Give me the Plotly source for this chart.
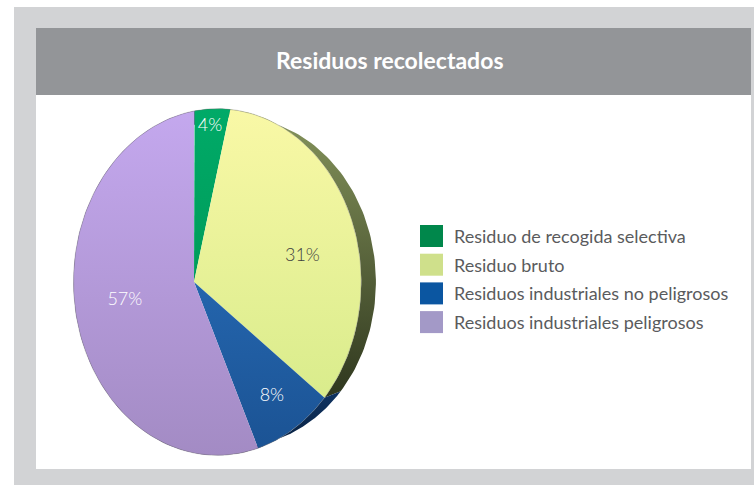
import numpy as np
import plotly.graph_objects as go

# ---- data -------------------------------------------------------------
categories = [
    "Residuo de recogida selectiva",
    "Residuo bruto",
    "Residuos industriales no peligrosos",
    "Residuos industriales peligrosos",
]
shares = [4, 31, 8, 57]
title_text = "Residuos recolectados"

# ---- style ------------------------------------------------------------
W, H = 754, 485
FONT = "Lato"

# face gradients: (type, low-end colour, high-end colour)
face_grad = [
    ("vertical", "#009c5a", "#00aa68"),
    ("vertical", "#d9ec8c", "#f9f8a6"),
    ("vertical", "#1b5394", "#2465ad"),
    ("vertical", "#a38bc4", "#c4a8ee"),
]
side_grad = [
    ("vertical", "#005a32", "#007a45"),
    ("vertical", "#2f371e", "#86955c"),
    ("vertical", "#08203f", "#0f3362"),
    ("vertical", "#5e507a", "#7a6a9a"),
]
legend_colors = ["#00874b", "#cfe08b", "#0b56a1", "#a399c7"]
label_colors = ["white", "#3f3f3f", "white", "white"]
label_radius = [0.9, 0.7, 0.8, 0.55]
label_turn = [0, 9, 0, 0]    # degrees, nudges a label along the slice

# tilted-disc projection (unit radius, seen in perspective)
PHI = np.radians(35)      # turn about the vertical axis
DIST = 3.53               # viewer distance in radii
DEPTH = 0.22              # disc thickness in radii
CX, CY, SCALE = 194, 282, 171   # pixel position of the disc centre, px per radius


def project(theta, r=1.0, z=0.0):
    X = r * np.sin(theta)
    Y = r * np.cos(theta)
    xr = X * np.cos(PHI) - z * np.sin(PHI)
    zr = X * np.sin(PHI) + z * np.cos(PHI)
    s = 1.0 / (1.0 - zr / DIST)
    return xr * s, Y * s


def px_x(p):
    return p / W


def px_y(p):
    return 1 - p / H


fig = go.Figure()

total = float(sum(shares))
bounds = np.concatenate([[0], np.cumsum(shares)]) / total * 2 * np.pi

# side walls first, faces on top
for i in range(len(shares)):
    th = np.linspace(bounds[i], bounds[i + 1], 80)
    fx, fy = project(th)
    bx, by = project(th[::-1], z=-DEPTH)
    kind, c0, c1 = side_grad[i]
    fig.add_trace(go.Scatter(
        x=np.concatenate([fx, bx]), y=np.concatenate([fy, by]),
        mode="lines", fill="toself", line=dict(width=0),
        fillgradient=dict(type=kind, colorscale=[[0, c0], [1, c1]]),
        hoverinfo="skip", showlegend=False))

for i in range(len(shares)):
    th = np.linspace(bounds[i], bounds[i + 1], 120)
    ax, ay = project(th)
    cx0, cy0 = project(np.array([0.0]), r=0.0)
    kind, c0, c1 = face_grad[i]
    fig.add_trace(go.Scatter(
        x=np.concatenate([cx0, ax, cx0]), y=np.concatenate([cy0, ay, cy0]),
        mode="lines", fill="toself", line=dict(width=0),
        fillgradient=dict(type=kind, colorscale=[[0, c0], [1, c1]]),
        name=categories[i], hoverinfo="name", showlegend=False))

# thin rim line round the face
th = np.linspace(0, 2 * np.pi, 361)
ox, oy = project(th)
fig.add_trace(go.Scatter(x=ox, y=oy, mode="lines",
                         line=dict(color="rgba(110,110,110,0.35)", width=1),
                         hoverinfo="skip", showlegend=False))

# percentage labels
for i, v in enumerate(shares):
    mid = (bounds[i] + bounds[i + 1]) / 2 + np.radians(label_turn[i])
    lx, ly = project(np.array([mid]), r=label_radius[i])
    fig.add_trace(go.Scatter(
        x=lx, y=ly, mode="text", text=[f"{v}%"],
        textfont=dict(family=FONT, size=18, color=label_colors[i], weight=300),
        hoverinfo="skip", showlegend=False))

# background panels and title bar
shapes = [
    dict(type="rect", xref="paper", yref="paper", x0=px_x(14), x1=1, y0=0, y1=px_y(7),
         fillcolor="#d2d3d5", line=dict(width=0), layer="below"),
    dict(type="rect", xref="paper", yref="paper", x0=px_x(36), x1=px_x(751),
         y0=px_y(469), y1=px_y(95), fillcolor="white", line=dict(width=0), layer="below"),
    dict(type="rect", xref="paper", yref="paper", x0=px_x(36), x1=px_x(751),
         y0=px_y(95), y1=px_y(28), fillcolor="#939598", line=dict(width=0), layer="below"),
]
annotations = [
    dict(xref="paper", yref="paper", x=px_x(390), y=px_y(60), text=f"<b>{title_text}</b>",
         showarrow=False, xanchor="center", yanchor="middle",
         font=dict(family=FONT, size=23, color="white")),
]

# legend
LEG_X, LEG_Y, LEG_STEP, SW = 420, 225, 28.7, 22
for i, name in enumerate(categories):
    top = LEG_Y + i * LEG_STEP
    shapes.append(dict(type="rect", xref="paper", yref="paper",
                       x0=px_x(LEG_X), x1=px_x(LEG_X + SW + 1),
                       y0=px_y(top + SW), y1=px_y(top),
                       fillcolor=legend_colors[i], line=dict(width=0)))
    annotations.append(dict(xref="paper", yref="paper", x=px_x(452), y=px_y(top + SW / 2),
                            text=name, showarrow=False, xanchor="left", yanchor="middle",
                            font=dict(family=FONT, size=18, color="#5a5b5d")))

fig.update_layout(
    width=W, height=H, autosize=False,
    margin=dict(l=0, r=0, t=0, b=0, pad=0),
    paper_bgcolor="white", plot_bgcolor="rgba(0,0,0,0)",
    xaxis=dict(range=[-CX / SCALE, (W - CX) / SCALE], visible=False, fixedrange=True),
    yaxis=dict(range=[-(H - CY) / SCALE, CY / SCALE], visible=False, fixedrange=True),
    shapes=shapes, annotations=annotations, showlegend=False,
)

fig.write_html("out.html")
